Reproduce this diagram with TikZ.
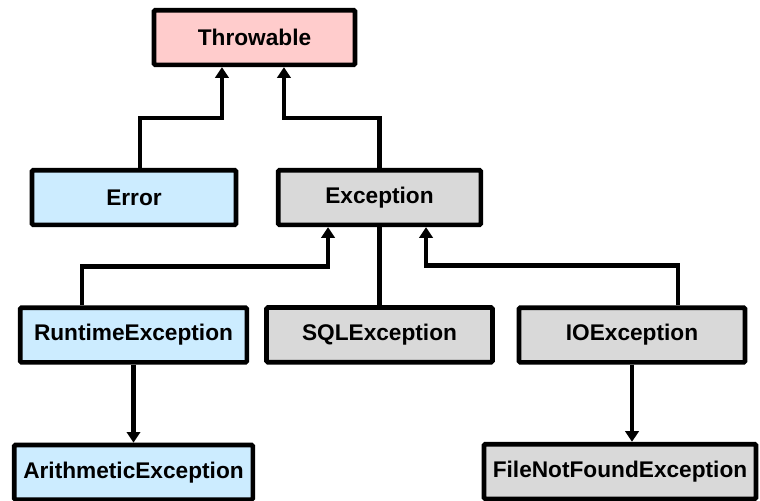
\documentclass[tikz,border=0pt]{standalone}
\usepackage{fontspec}
\setmainfont{Liberation Sans}
\usetikzlibrary{arrows.meta,positioning}

\definecolor{throwpink}{RGB}{255,204,204}
\definecolor{errblue}{RGB}{204,236,255}
\definecolor{excgray}{RGB}{217,217,217}

\begin{document}
\begin{tikzpicture}[
  x=0.75pt, y=-0.75pt,
  node distance=58.5pt,
  box/.style={rectangle, draw, line width=3.5pt, rounded corners=1pt,
    minimum height=41pt, font=\fontsize{17}{20}\selectfont\bfseries},
  link/.style={line width=3.3pt, black},
  >={Triangle[length=8pt,width=10pt]}
  ]
  \useasboundingbox (0,0) rectangle (760,500);

  \node[box, fill=throwpink, minimum width=150.75pt] (T) at (254.5,37.5) {Throwable};
  \node[box, fill=errblue, minimum width=153pt] (E) at (134,197.5) {Error};
  \node[box, fill=excgray, minimum width=152pt] (X) at (379.5,197.5) {Exception};
  \node[box, fill=errblue, minimum width=170pt] (R) at (133.5,335) {RuntimeException};
  \node[box, fill=excgray, minimum width=169.5pt, below=of X] (S) {SQLException};
  \node[box, fill=excgray, minimum width=169.5pt] (I) at (632,335) {IOException};
  \node[box, fill=errblue, minimum width=179pt, below=of R] (A) {ArithmeticException};
  \node[box, fill=excgray, minimum width=204pt] (F) at (620,471.5) {FileNotFoundException};

  \draw[link,->] ([xshift=4.5pt]E.north) -- ++(0,-50) -| ([xshift=-24.4pt]T.south);
  \draw[link,->] (X.north) -- ++(0,-50) -| ([xshift=22.1pt]T.south);
  \draw[link,->] ([xshift=-38.6pt]R.north) -- ++(0,-39) -| ([xshift=-38.6pt]X.south);
  \draw[link] (S.north) -- (S.north |- X.south);
  \draw[link,->] ([xshift=34.5pt]I.north) -- ++(0,-40) -| ([xshift=34.9pt]X.south);
  \draw[link,->] (R.south) -- (A.north);
  \draw[link,->] (I.south) -- (I.south |- F.north);
\end{tikzpicture}
\end{document}
